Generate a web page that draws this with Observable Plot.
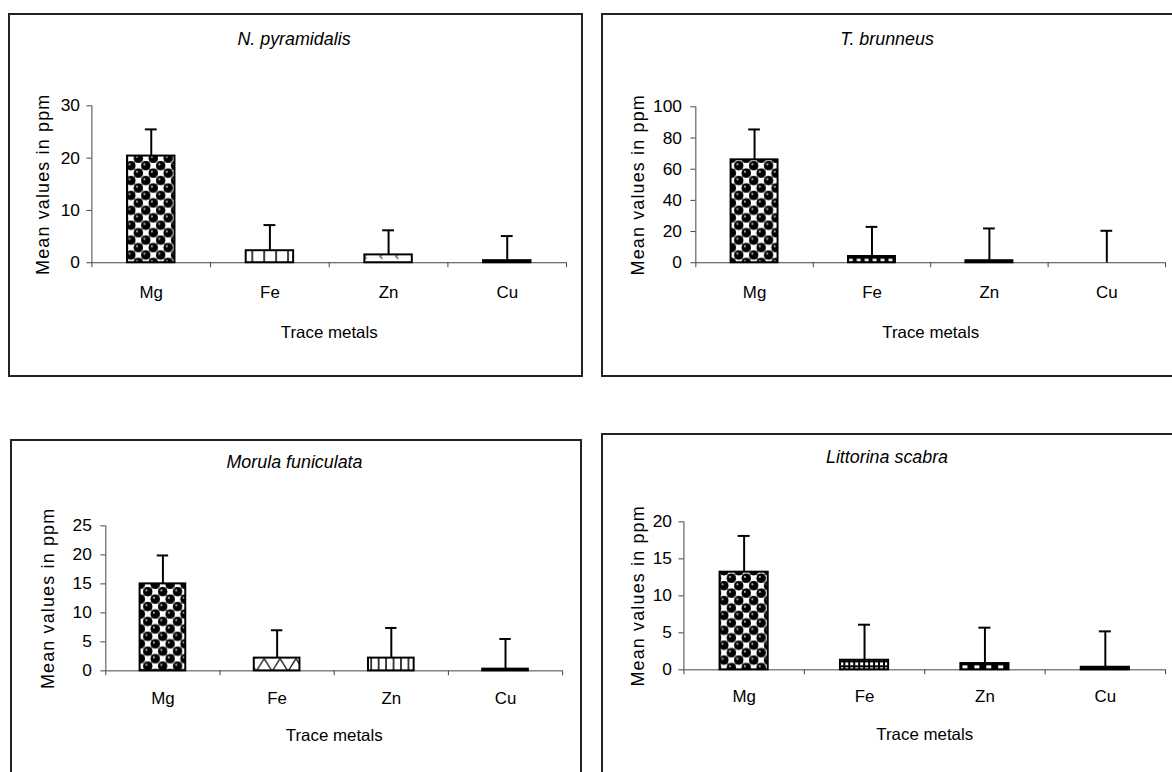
<!DOCTYPE html>
<html><head><meta charset="utf-8">
<script src="https://cdn.jsdelivr.net/npm/d3@7"></script>
<script src="https://cdn.jsdelivr.net/npm/@observablehq/plot@0.6"></script>
<style>
html,body{margin:0;padding:0;background:#fff;overflow:hidden;width:1172px;height:772px;position:relative;}
.panel{position:absolute;box-sizing:border-box;border:2px solid #222;background:#fff;}
.panel svg{position:absolute;left:-2px;top:-2px;overflow:visible;}
</style></head><body>
<script>
// ---- data ----
const metals = ["Mg", "Fe", "Zn", "Cu"];
const speciesNames = ["N. pyramidalis", "T. brunneus", "Morula funiculata", "Littorina scabra"];
const meanNP = [20.4, 2.3, 1.5, 0.4];
const errNP  = [5.1, 4.9, 4.7, 4.7];
const meanTB = [66.0, 4.0, 1.3, 0];
const errTB  = [19.5, 19.0, 20.7, 20.5];
const meanMF = [15.0, 2.2, 2.2, 0.3];
const errMF  = [4.9, 4.8, 5.2, 5.2];
const meanLS = [13.2, 1.3, 0.85, 0.35];
const errLS  = [4.9, 4.8, 4.85, 4.85];
const ticksNP = [0, 10, 20, 30];
const ticksTB = [0, 20, 40, 60, 80, 100];
const ticksMF = [0, 5, 10, 15, 20, 25];
const ticksLS = [0, 5, 10, 15, 20];
const xTitle = "Trace metals";
const yTitle = "Mean values in ppm";

// ---- layout / styling ----
const panels = [
  {name: speciesNames[0], mean: meanNP, err: errNP, ticks: ticksNP, pats: ["balls", "vwide", "chev", "solid"],
   box: [8, 13, 575, 364], m: [93, 13, 113, 84], titleY: 32, xtPad: 23, xlabDy: 76, ytOff: 49, ytPad: 7},
  {name: speciesNames[1], mean: meanTB, err: errTB, ticks: ticksTB, pats: ["balls", "dash", "solid", "solid"],
   box: [601, 13, 575, 364], m: [94, 7, 113, 95], titleY: 32, xtPad: 23, xlabDy: 76, ytOff: 58, ytPad: 9},
  {name: speciesNames[2], mean: meanMF, err: errMF, ticks: ticksMF, pats: ["balls", "cross", "vdense", "solid"],
   box: [10, 439, 572, 364], m: [87, 16, 131, 96], titleY: 29, xtPad: 21, xlabDy: 71, ytOff: 58, ytPad: 9},
  {name: speciesNames[3], mean: meanLS, err: errLS, ticks: ticksLS, pats: ["balls", "grid", "blocks", "solid"],
   box: [601, 433, 575, 364], m: [89, 7, 126, 83], titleY: 30, xtPad: 20, xlabDy: 71, ytOff: 46, ytPad: 7}
];

function patternDefs(p) {
  const r = 4.7;
  const balls = [[3.75, 3.75], [11.25, 11.25], [-3.75, 11.25], [11.25, -3.75], [18.75, 3.75], [3.75, 18.75]]
    .map(([x, y]) => `<circle cx="${x}" cy="${y}" r="${r}" fill="#000"/>`).join("");
  return `
  <pattern id="${p}-balls" patternUnits="userSpaceOnUse" width="15" height="15">
    <rect width="15" height="15" fill="#fff"/>
    <rect x="7.5" y="0" width="7.5" height="7.5" fill="#fff" stroke="#777" stroke-width="1.2"/>
    <rect x="0" y="7.5" width="7.5" height="7.5" fill="#fff" stroke="#777" stroke-width="1.2"/>
    ${balls}
    <circle cx="2.4" cy="2.4" r="1.1" fill="#aaa"/>
    <circle cx="9.9" cy="9.9" r="1.1" fill="#aaa"/>
  </pattern>
  <pattern id="${p}-vwide" patternUnits="userSpaceOnUse" width="12" height="12">
    <rect width="12" height="12" fill="#fff"/>
    <line x1="6" y1="0" x2="6" y2="12" stroke="#000" stroke-width="1.5"/>
  </pattern>
  <pattern id="${p}-chev" patternUnits="userSpaceOnUse" width="16" height="10">
    <rect width="16" height="10" fill="#fff"/>
    <path d="M9,2.5 L6.5,5 L9,7.5" fill="none" stroke="#444" stroke-width="1.2"/>
  </pattern>
  <pattern id="${p}-dash" patternUnits="userSpaceOnUse" width="8" height="6">
    <rect width="8" height="6" fill="#000"/>
    <rect x="1.5" y="1.5" width="4" height="3" fill="#fff"/>
  </pattern>
  <pattern id="${p}-cross" patternUnits="userSpaceOnUse" width="16" height="13">
    <rect width="16" height="13" fill="#fff"/>
    <path d="M0,0 L8,13 L16,0" fill="none" stroke="#000" stroke-width="1.2"/>
  </pattern>
  <pattern id="${p}-vdense" patternUnits="userSpaceOnUse" width="7.5" height="10">
    <rect width="7.5" height="10" fill="#fff"/>
    <line x1="3.75" y1="0" x2="3.75" y2="10" stroke="#000" stroke-width="1.5"/>
  </pattern>
  <pattern id="${p}-grid" patternUnits="userSpaceOnUse" width="5" height="5">
    <rect width="5" height="5" fill="#000"/>
    <rect x="1" y="1" width="3" height="3" fill="#fff"/>
  </pattern>
  <pattern id="${p}-blocks" patternUnits="userSpaceOnUse" width="12" height="8">
    <rect width="12" height="8" fill="#000"/>
    <rect x="4" y="2" width="5" height="4" fill="#fff"/>
  </pattern>`;
}

panels.forEach((P, k) => {
  const pid = "p" + k;
  const rows = metals.map((m, i) => ({metal: m, i, mean: P.mean[i], err: P.err[i], pat: P.pats[i]}));
  const [bx, by, bw, bh] = P.box;
  const [mt, mr, mb, ml] = P.m;
  const frameCx = ml + (bw - ml - mr) / 2;
  const svg = Plot.plot({
    width: bw, height: bh,
    marginTop: mt, marginRight: mr, marginBottom: mb, marginLeft: ml,
    style: {fontFamily: "'Liberation Sans', Arial, sans-serif", fontSize: "17px", color: "#000", background: "transparent", overflow: "visible"},
    x: {domain: [0, metals.length]},
    y: {domain: [0, d3.max(P.ticks)]},
    color: {type: "identity"},
    marks: [
      Plot.ruleY([0], {stroke: "#444", strokeWidth: 1}),
      Plot.ruleX([0], {stroke: "#444", strokeWidth: 1}),
      Plot.axisX({ticks: d3.range(metals.length + 1), tickSize: 5, tickFormat: () => "", stroke: "#444", label: null}),
      Plot.axisX({ticks: metals.map((m, i) => i + 0.5), tickSize: 0, tickPadding: P.xtPad,
                  tickFormat: v => metals[Math.floor(v)], label: null, fill: "#000", fontSize: 17}),
      Plot.axisY({ticks: P.ticks, tickSize: 5, tickPadding: P.ytPad, label: null, stroke: "#444",
                  fill: "#000", fontSize: 17.5, tickFormat: d => String(d)}),
      Plot.rect(rows, {x1: d => d.i + 0.3, x2: d => d.i + 0.7, y1: 0, y2: "mean",
                       fill: d => d.pat === "solid" ? "#000" : `url(#${pid}-${d.pat})`,
                       stroke: "#000", strokeWidth: 2}),
      Plot.ruleX(rows, {x: d => d.i + 0.5, y1: "mean", y2: d => d.mean + d.err, stroke: "#000", strokeWidth: 2}),
      Plot.ruleY(rows, {y: d => d.mean + d.err, x1: d => d.i + 0.45, x2: d => d.i + 0.55, stroke: "#000", strokeWidth: 2}),
      Plot.text([xTitle], {text: d => d, frameAnchor: "bottom", lineAnchor: "bottom", dy: P.xlabDy, fontSize: 17, fill: "#000"}),
      Plot.text([yTitle], {text: d => d, frameAnchor: "left", rotate: -90, textAnchor: "middle", lineAnchor: "middle",
                           dx: -P.ytOff, fontSize: 18, fill: "#000"}),
      Plot.text([P.name], {text: d => d, frameAnchor: "top", lineAnchor: "bottom", dy: P.titleY - mt, dx: bw / 2 - frameCx,
                           fontSize: 18, fontStyle: "italic", fill: "#000"})
    ]
  });
  d3.select(svg).insert("defs", ":first-child").html(patternDefs(pid));
  d3.select(svg).selectAll("text").filter(function () { return this.textContent === yTitle; })
    .attr("letter-spacing", "1.2px");
  const div = document.createElement("div");
  div.className = "panel";
  div.style.left = bx + "px";
  div.style.top = by + "px";
  div.style.width = bw + "px";
  div.style.height = bh + "px";
  div.appendChild(svg);
  document.body.appendChild(div);
});
</script>
</body></html>
